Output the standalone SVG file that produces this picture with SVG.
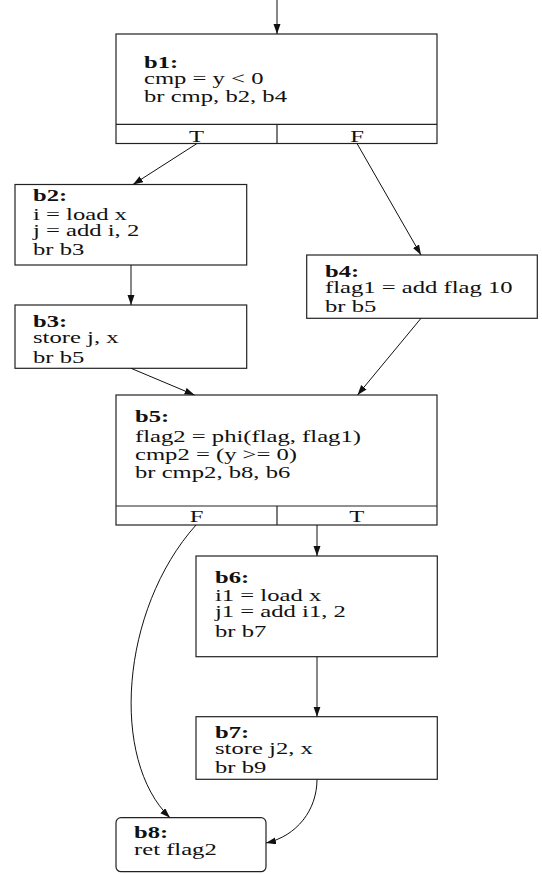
<svg xmlns="http://www.w3.org/2000/svg" width="542" height="874" viewBox="0 0 542 874">
<style>
.box{fill:#fff;stroke:#222;stroke-width:1.2}
.t{font-family:"Liberation Serif","Times New Roman",serif;font-size:17px;fill:#111}
.h{font-weight:bold}
.e{fill:none;stroke:#111;stroke-width:1}
</style>
<defs>
<marker id="ah" markerUnits="userSpaceOnUse" markerWidth="11" markerHeight="8" refX="10" refY="3.5" orient="auto">
<path d="M0,0 L10,3.5 L0,7 z" fill="#111"/>
</marker>
</defs>
<rect width="542" height="874" fill="#fff"/>
<g id="b1">
<rect class="box" x="116" y="34" width="321" height="109.5"/>
<line class="box" x1="116" y1="124.3" x2="437" y2="124.3"/>
<line class="box" x1="277" y1="124.3" x2="277" y2="143.5"/>
<text class="t" transform="translate(144,0) scale(1.45,1)"><tspan class="h" x="0" y="68">b1:</tspan><tspan x="0" y="84.5">cmp = y &lt; 0</tspan><tspan x="0" y="102">br cmp, b2, b4</tspan></text>
<text class="t" text-anchor="middle" transform="translate(196.5,0) scale(1.45,1)"><tspan x="0" y="142">T</tspan></text>
<text class="t" text-anchor="middle" transform="translate(357,0) scale(1.45,1)"><tspan x="0" y="142">F</tspan></text>
</g>
<g id="b2">
<rect class="box" x="15" y="184.5" width="231.7" height="80.5"/>
<text class="t" transform="translate(33,0) scale(1.45,1)"><tspan class="h" x="0" y="200.7">b2:</tspan><tspan x="0" y="220">i = load x</tspan><tspan x="0" y="236">j = add i, 2</tspan><tspan x="0" y="255">br b3</tspan></text>
</g>
<g id="b3">
<rect class="box" x="15" y="305" width="231.7" height="63.3"/>
<text class="t" transform="translate(33,0) scale(1.45,1)"><tspan class="h" x="0" y="326.7">b3:</tspan><tspan x="0" y="343.3">store j, x</tspan><tspan x="0" y="363.3">br b5</tspan></text>
</g>
<g id="b4">
<rect class="box" x="306.7" y="255" width="230.6" height="63.3"/>
<text class="t" transform="translate(325,0) scale(1.45,1)"><tspan class="h" x="0" y="276.7">b4:</tspan><tspan x="0" y="292.7">flag1 = add flag 10</tspan><tspan x="0" y="311.7">br b5</tspan></text>
</g>
<g id="b5">
<rect class="box" x="116" y="395" width="321" height="130"/>
<line class="box" x1="116" y1="506" x2="437" y2="506"/>
<line class="box" x1="277" y1="506" x2="277" y2="525"/>
<text class="t" transform="translate(135,0) scale(1.45,1)"><tspan class="h" x="0" y="421.7">b5:</tspan><tspan x="0" y="442.3">flag2 = phi(flag, flag1)</tspan><tspan x="0" y="460">cmp2 = (y &gt;= 0)</tspan><tspan x="0" y="478">br cmp2, b8, b6</tspan></text>
<text class="t" text-anchor="middle" transform="translate(196.7,0) scale(1.45,1)"><tspan x="0" y="522.5">F</tspan></text>
<text class="t" text-anchor="middle" transform="translate(356.7,0) scale(1.45,1)"><tspan x="0" y="522.5">T</tspan></text>
</g>
<g id="b6">
<rect class="box" x="196" y="556" width="241.3" height="100.7"/>
<text class="t" transform="translate(215,0) scale(1.45,1)"><tspan class="h" x="0" y="582.7">b6:</tspan><tspan x="0" y="601">i1 = load x</tspan><tspan x="0" y="617.3">j1 = add i1, 2</tspan><tspan x="0" y="636.7">br b7</tspan></text>
</g>
<g id="b7">
<rect class="box" x="196" y="716.7" width="241.3" height="62.6"/>
<text class="t" transform="translate(215,0) scale(1.45,1)"><tspan class="h" x="0" y="738.3">b7:</tspan><tspan x="0" y="754">store j2, x</tspan><tspan x="0" y="773.3">br b9</tspan></text>
</g>
<g id="b8">
<rect class="box" x="116" y="817.7" width="150" height="54" rx="5" ry="5"/>
<text class="t" transform="translate(134,0) scale(1.45,1)"><tspan class="h" x="0" y="838.3">b8:</tspan><tspan x="0" y="855">ret flag2</tspan></text>
</g>
<g id="connectors">
<path class="e" marker-end="url(#ah)" d="M277,0 L277,34"/>
<path class="e" marker-end="url(#ah)" d="M197,143.5 L133,184.5"/>
<path class="e" marker-end="url(#ah)" d="M357,143.5 L421,255"/>
<path class="e" marker-end="url(#ah)" d="M131,265 L131,305"/>
<path class="e" marker-end="url(#ah)" d="M131,368.3 L194.5,395"/>
<path class="e" marker-end="url(#ah)" d="M421,318.3 L357.5,395"/>
<path class="e" marker-end="url(#ah)" d="M196,525 C120,610 110,760 170,817.7"/>
<path class="e" marker-end="url(#ah)" d="M317,525 L317,556"/>
<path class="e" marker-end="url(#ah)" d="M317,656.7 L317,716.7"/>
<path class="e" marker-end="url(#ah)" d="M317,779.3 C317,810 297,836 266,843"/>
</g>
</svg>
